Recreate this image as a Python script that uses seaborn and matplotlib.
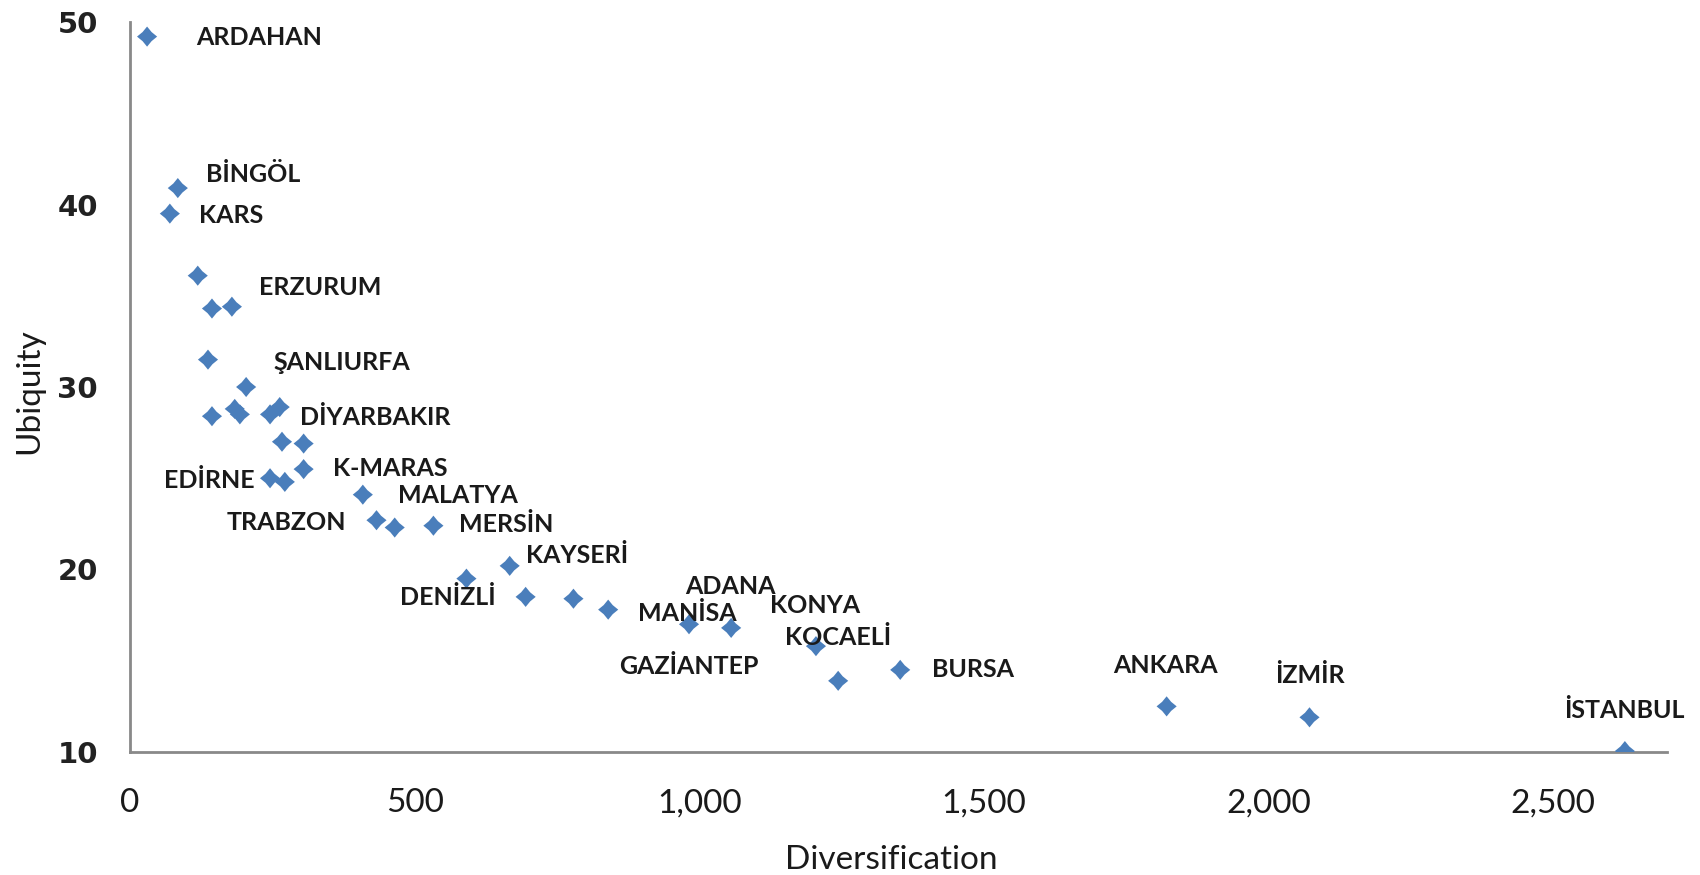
import numpy as np
import pandas as pd
import seaborn as sns
import matplotlib.pyplot as plt
from matplotlib.ticker import FuncFormatter

# values (Diversification, Ubiquity)
diversification = [30, 84, 70, 119, 144, 179, 137, 204, 144, 184, 193, 246, 263, 267,
                   305, 305, 246, 272, 409, 433, 465, 533, 667, 591, 695, 779, 840,
                   982, 1056, 1205, 1244, 1353, 1821, 2072, 2626]
ubiquity = [49.2, 40.9, 39.5, 36.1, 34.3, 34.4, 31.5, 30.0, 28.4, 28.8, 28.5, 28.5, 28.9, 27.0,
            26.9, 25.5, 25.0, 24.8, 24.1, 22.7, 22.3, 22.4, 20.2, 19.5, 18.5, 18.4, 17.8,
            17.0, 16.8, 15.8, 13.9, 14.5, 12.5, 11.9, 10.05]
province = ['ARDAHAN', 'BİNGÖL', 'KARS', '', '', 'ERZURUM', '', 'ŞANLIURFA', '', '', '', '',
            'DİYARBAKIR', '', '', 'K-MARAS', 'EDİRNE', '', 'MALATYA', 'TRABZON', '', 'MERSİN',
            'KAYSERİ', '', 'DENİZLİ', '', 'GAZİANTEP', 'MANİSA', 'ADANA', 'KONYA', 'KOCAELİ',
            'BURSA', 'ANKARA', 'İZMİR', 'İSTANBUL']

x_ticks = [0, 500, 1000, 1500, 2000, 2500]
y_ticks = [10, 20, 30, 40, 50]

# label placement: (dx, dy) in pixels from the point, horizontal alignment
label_pos = {
    'ARDAHAN': (49, -1, 'left'), 'BİNGÖL': (28, 14, 'left'), 'KARS': (29, -2, 'left'),
    'ERZURUM': (27, 19, 'left'), 'ŞANLIURFA': (27, 25, 'left'), 'DİYARBAKIR': (20, -10, 'left'),
    'K-MARAS': (29, 1, 'left'), 'EDİRNE': (-15, -2, 'right'), 'MALATYA': (35, -1, 'left'),
    'TRABZON': (-30, -2, 'right'), 'MERSİN': (26, 1, 'left'), 'KAYSERİ': (16, 10, 'left'),
    'DENİZLİ': (-30, -1, 'right'), 'GAZİANTEP': (81, -57, 'center'), 'MANİSA': (-2, 11, 'center'),
    'ADANA': (-1, 41, 'center'), 'KONYA': (-1, 41, 'center'), 'KOCAELİ': (0, 43, 'center'),
    'BURSA': (32, 0, 'left'), 'ANKARA': (-1, 41, 'center'), 'İZMİR': (0, 42, 'center'),
    'İSTANBUL': (0, 41, 'center'),
}

df = pd.DataFrame({'Diversification': diversification, 'Ubiquity': ubiquity, 'province': province})

sns.set_style('white')
plt.rcParams['font.family'] = ['Lato', 'DejaVu Sans']

fig = plt.figure(figsize=(17, 8.75), dpi=100)
ax = fig.add_axes([130 / 1700, 123 / 875, 1537 / 1700, 730 / 875])

# four-point star marker like the Excel diamond
star = [(0, 1), (0.45, 0.45), (1, 0), (0.45, -0.45), (0, -1), (-0.45, -0.45), (-1, 0), (-0.45, 0.45)]
sns.scatterplot(data=df, x='Diversification', y='Ubiquity', ax=ax, marker=star,
                s=210, color='#4a7ebb', edgecolor='none', linewidth=0, zorder=3)

for _, row in df.iterrows():
    if not row['province']:
        continue
    dx, dy, ha = label_pos[row['province']]
    ax.annotate(row['province'], (row['Diversification'], row['Ubiquity']),
                xytext=(dx, dy), textcoords='offset pixels', ha=ha, va='center',
                fontsize=18, fontweight='bold', color='#1a1a1a',
                family=['Lato', 'DejaVu Sans'], zorder=4)

ax.set_xlim(0, 2700)
ax.set_ylim(10, 50)
ax.set_xticks(x_ticks)
ax.set_yticks(y_ticks)
ax.xaxis.set_major_formatter(FuncFormatter(lambda v, p: f'{int(v):,}'))
ax.tick_params(axis='x', length=0, pad=26, labelsize=24, labelcolor='#1a1a1a')
ax.tick_params(axis='y', length=0, pad=23, labelsize=21, labelcolor='#222222')
for lab in ax.get_yticklabels():
    lab.set_family('DejaVu Sans')
    lab.set_fontweight('bold')

sns.despine(ax=ax)
for side in ['left', 'bottom']:
    ax.spines[side].set_color('#898989')
    ax.spines[side].set_linewidth(2)

ax.set_xlabel('Diversification', fontsize=24, color='#1a1a1a', va='center')
ax.set_ylabel('Ubiquity', fontsize=24, color='#1a1a1a', va='center')
ax.xaxis.set_label_coords(0.495, -0.148)
ax.yaxis.set_label_coords(-0.0657, 0.4945)

fig.savefig('out.png', dpi=100)
